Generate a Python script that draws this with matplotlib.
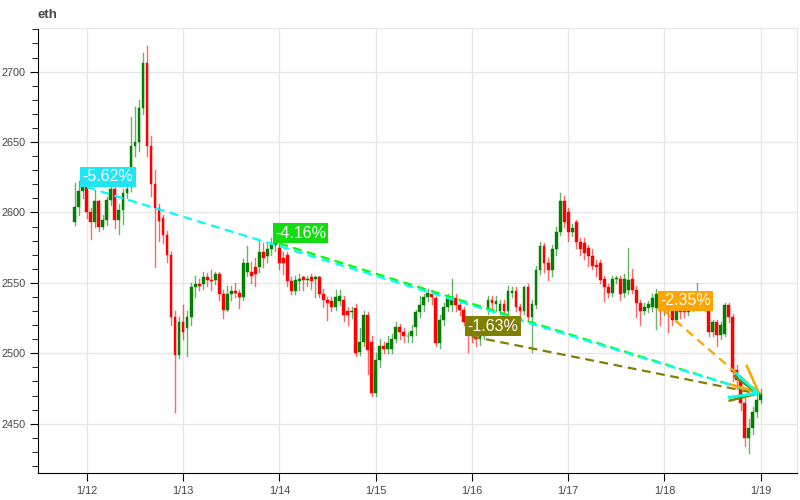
import pandas as pd
import matplotlib
matplotlib.use("Agg")
import matplotlib.pyplot as plt
import matplotlib.dates as mdates
from matplotlib.ticker import MultipleLocator

plt.rcParams['font.family'] = ['Liberation Sans', 'DejaVu Sans']

# hourly eth candles, 1/11 21:00 .. 1/19 00:00
times = pd.date_range('2025-01-11 21:00', periods=172, freq='h')

opens = [2593, 2604, 2615,
         2618, 2600, 2593, 2608, 2590, 2595, 2609, 2617, 2595, 2602,
         2614, 2618, 2647, 2650, 2674, 2706, 2647, 2620, 2603, 2596,
         2584, 2570, 2526, 2499, 2522, 2518, 2526, 2547, 2549, 2549,
         2554, 2552, 2552, 2556, 2542, 2531, 2542, 2544, 2543, 2540,
         2558, 2558, 2561, 2561, 2572, 2569, 2574, 2577, 2575, 2568,
         2570, 2551, 2544, 2551, 2554, 2552, 2554, 2553, 2554, 2542,
         2538, 2537, 2533, 2537, 2538, 2530, 2529, 2532, 2501, 2508,
         2527, 2508, 2472, 2495, 2505, 2503, 2503, 2510, 2519, 2515,
         2512, 2512, 2519, 2529, 2534, 2540, 2542, 2539, 2507, 2524,
         2533, 2534, 2539, 2534, 2531, 2522, 2515, 2512, 2510, 2512,
         2531, 2538, 2535, 2530, 2535, 2530, 2543, 2544, 2533, 2530,
         2547, 2526, 2534, 2559, 2576, 2564, 2559, 2574, 2586, 2608,
         2600, 2586, 2593, 2579, 2578, 2575, 2569, 2563, 2564, 2553,
         2547, 2543, 2553, 2553, 2543, 2545, 2553, 2545, 2536, 2530,
         2532, 2533, 2532, 2531, 2530, 2533, 2530, 2524, 2530, 2531,
         2529, 2532, 2533, 2533, 2534, 2535, 2515, 2522, 2513, 2514,
         2534, 2526, 2488, 2481, 2465, 2440, 2447, 2458, 2467]

closes = [2604, 2615, 2618,
          2600, 2593, 2608, 2590, 2595, 2609, 2617, 2595, 2602, 2614,
          2617, 2647, 2650, 2674, 2706, 2647, 2620, 2603, 2594, 2584,
          2570, 2526, 2499, 2522, 2515, 2526, 2547, 2549, 2548, 2554,
          2552, 2551, 2556, 2542, 2531, 2542, 2544, 2543, 2540, 2564,
          2564, 2555, 2556, 2572, 2568, 2574, 2578, 2578, 2564, 2564,
          2551, 2544, 2552, 2553, 2552, 2552, 2551, 2554, 2542, 2538,
          2536, 2533, 2540, 2541, 2527, 2527, 2530, 2500, 2508, 2527,
          2502, 2472, 2495, 2505, 2503, 2507, 2510, 2519, 2515, 2512,
          2512, 2516, 2529, 2534, 2540, 2543, 2540, 2507, 2524, 2533,
          2539, 2540, 2534, 2531, 2522, 2515, 2512, 2510, 2512, 2520,
          2538, 2536, 2537, 2535, 2530, 2544, 2544, 2533, 2530, 2547,
          2526, 2535, 2559, 2576, 2564, 2559, 2574, 2586, 2608, 2593,
          2586, 2589, 2579, 2574, 2571, 2569, 2562, 2561, 2552, 2547,
          2543, 2553, 2553, 2542, 2553, 2552, 2545, 2536, 2530, 2533,
          2535, 2539, 2542, 2530, 2533, 2530, 2524, 2530, 2529, 2529,
          2532, 2533, 2534, 2534, 2533, 2515, 2522, 2513, 2520, 2534,
          2526, 2487, 2481, 2465, 2440, 2447, 2458, 2467, 2471]

highs = [2621, 2622, 2624,
         2619, 2603, 2616, 2609, 2598, 2611, 2620, 2619, 2606, 2617,
         2623, 2668, 2675, 2680, 2713, 2718, 2654, 2630, 2606, 2598,
         2587, 2572, 2530, 2526, 2534, 2530, 2550, 2555, 2553, 2558,
         2557, 2559, 2558, 2558, 2545, 2548, 2548, 2550, 2545, 2567,
         2576, 2565, 2568, 2580, 2578, 2578, 2582, 2580, 2580, 2572,
         2572, 2554, 2555, 2556, 2555, 2555, 2556, 2555, 2555, 2546,
         2540, 2540, 2545, 2545, 2541, 2533, 2533, 2535, 2518, 2530,
         2529, 2512, 2500, 2510, 2508, 2512, 2514, 2522, 2521, 2518,
         2515, 2520, 2531, 2541, 2542, 2546, 2545, 2541, 2527, 2536,
         2542, 2553, 2542, 2536, 2533, 2524, 2517, 2514, 2515, 2525,
         2541, 2541, 2541, 2538, 2538, 2548, 2547, 2547, 2535, 2548,
         2549, 2538, 2562, 2579, 2578, 2568, 2577, 2590, 2614, 2612,
         2603, 2592, 2595, 2582, 2582, 2577, 2574, 2566, 2566, 2555,
         2549, 2555, 2555, 2555, 2556, 2575, 2560, 2548, 2538, 2536,
         2537, 2542, 2546, 2533, 2536, 2535, 2532, 2532, 2535, 2533,
         2534, 2536, 2550, 2538, 2536, 2537, 2524, 2524, 2522, 2536,
         2536, 2528, 2492, 2484, 2468, 2453, 2462, 2472, 2475]

lows = [2591, 2598, 2610,
        2596, 2581, 2590, 2587, 2588, 2591, 2605, 2589, 2585, 2592,
        2610, 2615, 2640, 2644, 2670, 2640, 2612, 2561, 2580, 2578,
        2565, 2520, 2458, 2497, 2510, 2498, 2520, 2540, 2545, 2546,
        2548, 2545, 2549, 2538, 2525, 2530, 2538, 2540, 2532, 2538,
        2555, 2550, 2548, 2558, 2561, 2565, 2570, 2573, 2560, 2556,
        2548, 2542, 2542, 2545, 2545, 2548, 2546, 2540, 2540, 2533,
        2524, 2530, 2531, 2534, 2523, 2520, 2525, 2498, 2499, 2505,
        2485, 2470, 2470, 2490, 2500, 2500, 2500, 2508, 2510, 2508,
        2508, 2508, 2513, 2526, 2530, 2537, 2535, 2505, 2504, 2520,
        2530, 2530, 2530, 2527, 2520, 2501, 2508, 2505, 2506, 2510,
        2528, 2531, 2530, 2528, 2527, 2528, 2540, 2530, 2525, 2528,
        2524, 2501, 2532, 2556, 2558, 2552, 2555, 2570, 2584, 2590,
        2580, 2583, 2575, 2570, 2567, 2562, 2560, 2555, 2550, 2537,
        2540, 2541, 2550, 2538, 2540, 2542, 2543, 2526, 2520, 2528,
        2529, 2530, 2517, 2520, 2527, 2515, 2520, 2522, 2525, 2526,
        2527, 2530, 2531, 2531, 2530, 2512, 2512, 2505, 2510, 2512,
        2522, 2480, 2475, 2460, 2434, 2429, 2443, 2455, 2465]

# trend arrows from a start point to the last close
arrow_starts = ['2025-01-12 00:00', '2025-01-14 00:00', '2025-01-16 00:00', '2025-01-18 00:00']
arrow_start_prices = [2618, 2578, 2512, 2530]
arrow_labels = ['-5.62%', '-4.16%', '-1.63%', '-2.35%']
arrow_colors = ['#00ffff', '#00ff00', '#808000', '#ffa500']
label_colors = ['#1ee6f2', '#11dd11', '#808000', '#ffa500']

fig = plt.figure(figsize=(8, 5), dpi=100)
ax = fig.add_axes([0.0475, 0.054, 0.9485, 0.89])

xs = mdates.date2num(times)
w = 0.7 / 24
for x, o, h, l, c in zip(xs, opens, highs, lows, closes):
    col = '#008000' if c >= o else '#ff0000'
    ax.plot([x, x], [l, h], color=col, lw=1, alpha=0.6, zorder=2)
    ax.bar(x, max(abs(c - o), 0.6), bottom=min(o, c), width=w,
           color=col, edgecolor=col, linewidth=0.3, zorder=3)

end_x = xs[-1]
end_y = closes[-1]
n = len(arrow_starts)
for k, (st, sp, lab, col, lcol) in enumerate(zip(arrow_starts, arrow_start_prices,
                                                 arrow_labels, arrow_colors, label_colors)):
    sx = mdates.date2num(pd.Timestamp(st))
    z = 4 + (n - k) * 0.1  # first arrow on top
    ax.plot([sx, end_x], [sp, end_y], color=col, lw=1.6, ls=(0, (4, 2.5)), zorder=z)
    px = sx + (end_x - sx) * 0.99
    py = sp + (end_y - sp) * 0.99
    ax.annotate('', xy=(end_x, end_y), xytext=(px, py),
                arrowprops=dict(arrowstyle='->,head_length=1.9,head_width=0.9',
                                color=col, lw=1.8, shrinkA=0, shrinkB=0),
                zorder=z + 1)
    ax.annotate(lab, xy=(sx, sp), xytext=(-3, 2), textcoords='offset points',
                ha='left', va='bottom', color='white', fontsize=11.5, zorder=7,
                bbox=dict(boxstyle='square,pad=0.14', fc=lcol, ec='none'))

ax.set_xlim(mdates.date2num(pd.Timestamp('2025-01-11 11:50')),
            mdates.date2num(pd.Timestamp('2025-01-19 09:00')))
ax.set_ylim(2415, 2731)

ax.xaxis.set_major_locator(mdates.DayLocator())
ax.xaxis.set_major_formatter(plt.FuncFormatter(
    lambda v, p: f"{mdates.num2date(v).month}/{mdates.num2date(v).day}"))
ax.yaxis.set_major_locator(MultipleLocator(50))
ax.yaxis.set_minor_locator(MultipleLocator(10))

ax.grid(True, color='#e6e6e6', lw=1, zorder=0)
ax.set_axisbelow(True)
for s in ['top', 'right']:
    ax.spines[s].set_color('#e6e6e6')
ax.tick_params(axis='both', which='major', length=6, direction='out',
               labelsize=7.8, labelcolor='#444444', pad=3)
ax.tick_params(axis='y', which='minor', length=4, direction='out')

fig.text(0.0475, 0.97, 'eth', fontsize=9.5, fontweight='bold', color='#444444',
         ha='left', va='center')

fig.savefig('out.png', dpi=100)
